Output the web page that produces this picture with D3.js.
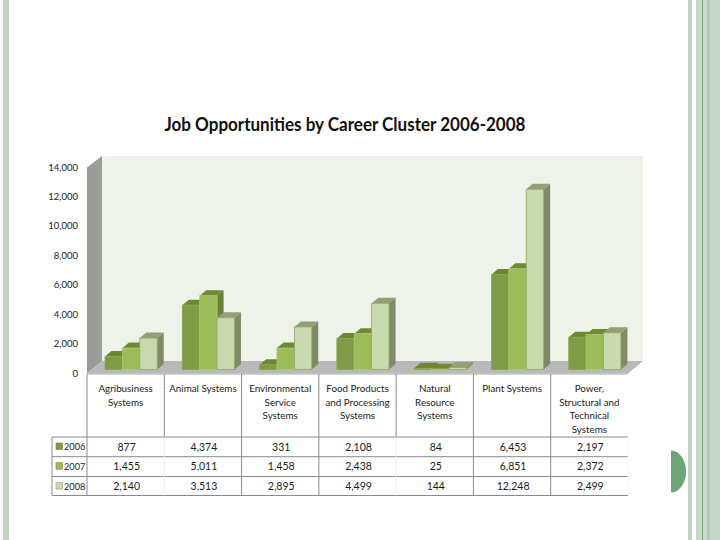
<!DOCTYPE html>
<html><head><meta charset="utf-8">
<script src="https://cdn.jsdelivr.net/npm/d3@7"></script>
<style>html,body{margin:0;padding:0;background:#fff}svg{display:block}text{font-family:Lato,"Open Sans",sans-serif;fill:#1c1c1c}</style>
</head><body><svg id="c" width="720" height="540"></svg>
<script>
const title = "Job Opportunities by Career Cluster 2006-2008";
const categories = [
  ["Agribusiness","Systems"],
  ["Animal Systems"],
  ["Environmental","Service","Systems"],
  ["Food Products","and Processing","Systems"],
  ["Natural","Resource","Systems"],
  ["Plant Systems"],
  ["Power,","Structural and","Technical","Systems"]
];
const years = ["2006","2007","2008"];
const values2006 = [877,4374,331,2108,84,6453,2197];
const values2007 = [1455,5011,1458,2438,25,6851,2372];
const values2008 = [2140,3513,2895,4499,144,12248,2499];
const series = [values2006,values2007,values2008];
const yTicks = [0,2000,4000,6000,8000,10000,12000,14000];
const faces = [
  {front:"#7f9b45",top:"#6b8732",side:"#5f7a33",edge:"#8ca653"},
  {front:"#9cbc5a",top:"#6f8a33",side:"#698038",edge:"#abc870"},
  {front:"#c9d9ae",top:"#939f76",side:"#7e8b66",edge:"#8fa565"}
];
const svg = d3.select("#c");
const poly = (pts,fill) => svg.append("polygon").attr("points",pts.map(p=>p.join(",")).join(" ")).attr("fill",fill);

// page decoration
const deco = [[3,6,"#c2d2c4"],[688,4,"#c2d2c4"],[696,3,"#c9d2ca"],[699,8,"#c8d8ca"],[702,1,"#7ea67f"],[707,3,"#b5c7b7"],[710,10,"#c4d4c6"]];
svg.selectAll("rect.deco").data(deco).join("rect").attr("class","deco")
  .attr("x",d=>d[0]).attr("y",0).attr("width",d=>d[1]).attr("height",540).attr("fill",d=>d[2]);
svg.append("path").attr("fill","#6fa476")
  .attr("d",d3.arc()({innerRadius:0,outerRadius:21,startAngle:0,endAngle:Math.PI}))
  .attr("transform","translate(671,471.5) scale(0.72,1)");

// scales
const x = d3.scaleBand().domain(d3.range(categories.length)).range([87,628]);
const y = d3.scaleLinear().domain([0,14000]).range([373,167]);
const barDX = 6.5, barDY = 5.5;

// plot box
poly([[102,156],[643,156],[643,361],[102,361]],"#eef3ea");
poly([[87,167.5],[102,156],[102,361],[87,373.5]],"#9a9c97");
poly([[87,373.5],[102,361],[643,361],[628,373.5]],"#b9b9b9");

// bars
const barW = 17.4, base = 369.5, shift = 18;
const h = v => y(0)-y(v);
categories.forEach((c,i)=>{
  series.forEach((s,k)=>{
    const x0 = x(i)+shift+k*barW, x1 = x0+barW, t = base-h(s[i]), f = faces[k];
    poly([[x1,t],[x1+barDX,t-barDY],[x1+barDX,base-barDY],[x1,base]],f.side);
    poly([[x0,t],[x0+barDX,t-barDY],[x1+barDX,t-barDY],[x1,t]],f.top);
    svg.append("rect").attr("x",x0).attr("y",t).attr("width",barW).attr("height",h(s[i]))
      .attr("fill",f.front).attr("stroke",f.edge).attr("stroke-width",0.8);
  });
});

// value axis
const ax = svg.append("g").attr("transform","translate(78,0)")
  .call(d3.axisLeft(y).tickValues(yTicks).tickSize(0).tickPadding(0).tickFormat(d3.format(",")));
ax.select(".domain").remove();
ax.selectAll("text").style("font-family","Lato,sans-serif").attr("font-size",9.5).attr("fill","#222");

// title
svg.append("text").attr("x",345).attr("y",131).attr("text-anchor","middle")
  .attr("font-size",18.5).attr("font-weight",700)
  .attr("textLength",361).attr("lengthAdjust","spacingAndGlyphs").style("fill","#111").text(title);

// table
const rows = [437,456.7,476.5,495.5];
const line = (x1,y1,x2,y2,col="#8a8a8a") => svg.append("line").attr("x1",x1).attr("y1",y1).attr("x2",x2).attr("y2",y2).attr("stroke",col).attr("stroke-width",1);
rows.forEach(r=>line(52,r,628,r));
line(87,374,628,374,"#a8a8a8");
x.domain().forEach(i=>line(x(i),374,x(i),437,"#8a8a8a"));
line(52,437,52,495.5);
x.domain().forEach(i=>line(x(i),437,x(i),495.5,(i===1||i===4)?"#ececec":"#8a8a8a"));
line(628,437,628,495.5,"#f4f4f4");

categories.forEach((c,i)=>{
  const cx = x(i)+x.bandwidth()/2;
  c.forEach((t,j)=>svg.append("text").attr("x",cx).attr("y",392+j*13.7).attr("text-anchor","middle").attr("font-size",9.8).text(t));
  series.forEach((s,k)=>svg.append("text").attr("x",cx+1).attr("y",rows[k]+13.5).attr("text-anchor","middle").attr("font-size",10.5).text(d3.format(",")(s[i])));
});
years.forEach((yr,k)=>{
  svg.append("rect").attr("x",56).attr("y",rows[k]+6).attr("width",6.5).attr("height",6.5)
    .attr("fill",faces[k].front).attr("stroke",faces[k].top).attr("stroke-width",0.6);
  svg.append("text").attr("x",64).attr("y",rows[k]+13).attr("font-size",9.2).text(yr);
});
</script></body></html>
